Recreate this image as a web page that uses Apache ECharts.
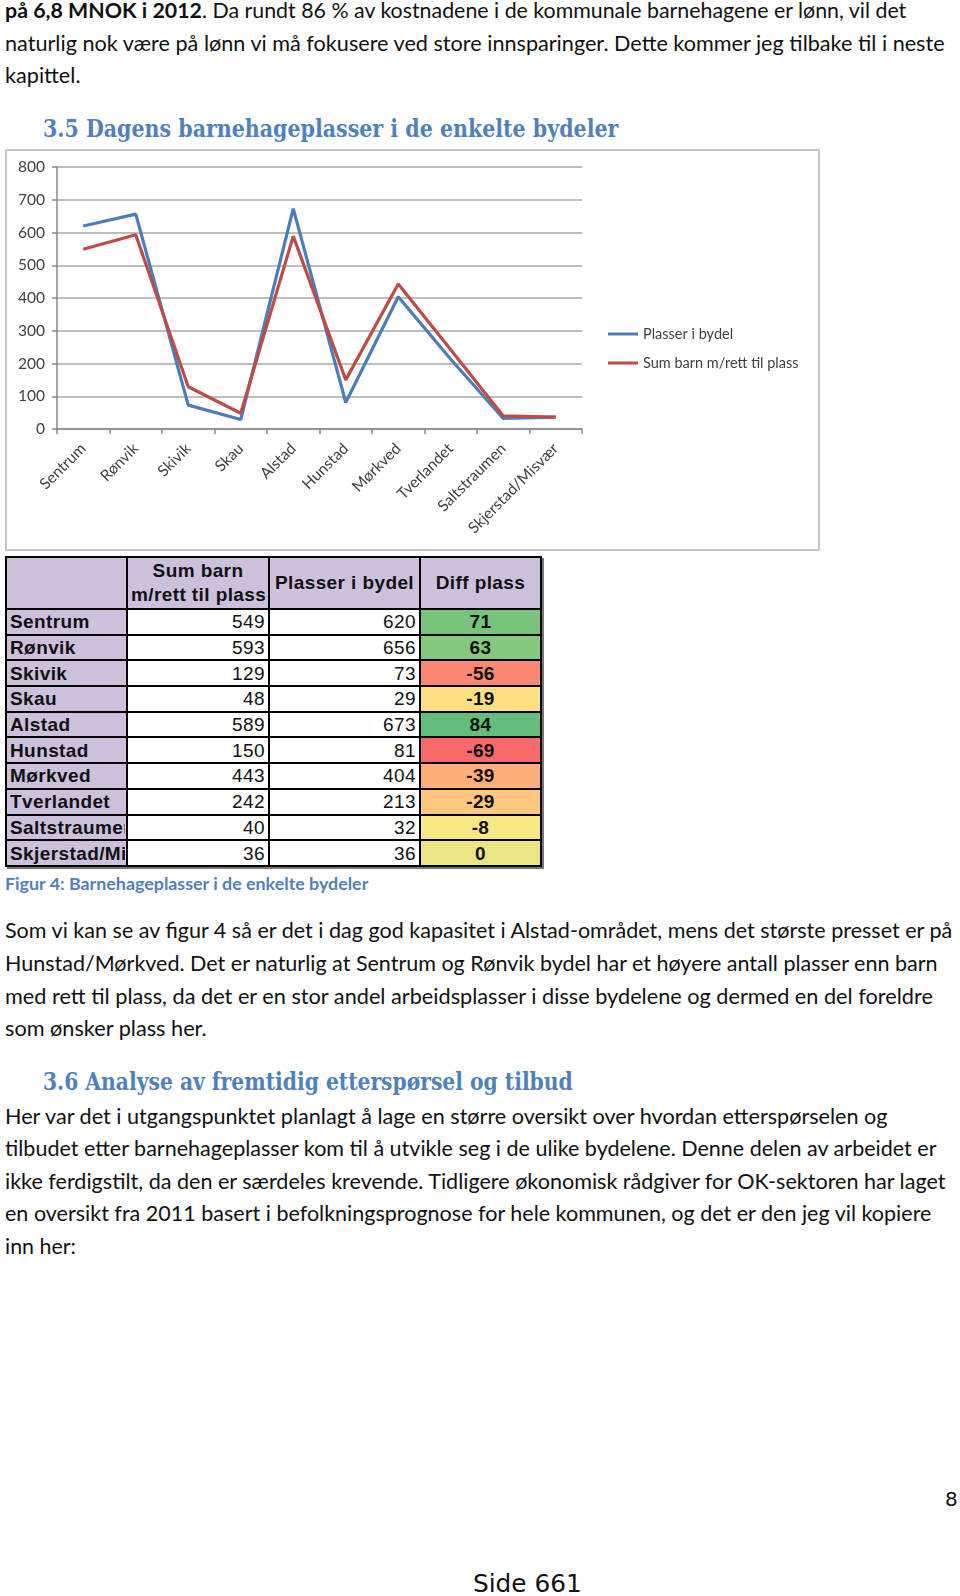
<!DOCTYPE html>
<html>
<head>
<meta charset="utf-8">
<script src="https://cdn.jsdelivr.net/npm/echarts@6/dist/echarts.min.js"></script>
<style>
  html,body{margin:0;padding:0;background:#fff;}
  body{width:960px;height:1596px;position:relative;overflow:hidden;color:#111;}
  .ln{position:absolute;white-space:nowrap;font-family:Lato,"Open Sans",sans-serif;font-size:20.5px;line-height:30px;height:30px;transform-origin:0 50%;}
  .h2{position:absolute;white-space:nowrap;font-family:"DejaVu Serif",serif;font-weight:bold;font-size:24px;line-height:34px;height:34px;color:#4F81BD;transform-origin:0 50%;}
  .cap{position:absolute;white-space:nowrap;font-family:Lato,sans-serif;font-weight:bold;font-size:17px;line-height:24px;color:#4F81BD;transform-origin:0 50%;}
  #chart{position:absolute;left:5px;top:149px;width:815px;height:402px;}
  #chartBorder{position:absolute;left:5px;top:149px;width:815px;height:402px;box-sizing:border-box;border:2px solid #c6c6c6;pointer-events:none;}
  #tbl{position:absolute;left:5px;top:556px;border-collapse:collapse;font-family:"Liberation Sans",Arial,sans-serif;font-size:19px;letter-spacing:0.4px;table-layout:fixed;box-shadow:2px 2px 0 #777;}
  #tbl td{border:2px solid #000;padding:0 3px;height:25.7px;line-height:23px;overflow:hidden;white-space:nowrap;box-sizing:border-box;}
  #tbl tr.hd td{height:52px;background:#CCC0DA;font-weight:bold;text-align:center;line-height:24px;}
  #tbl td.lab{background:#CCC0DA;font-weight:bold;text-align:left;}
  #tbl td.num{text-align:right;background:#fff;}
  #tbl td.dif{text-align:center;font-weight:bold;}
</style>
</head>
<body>
<div class="ln" data-w="901" style="left:5px;top:-5px;"><b>på 6,8 MNOK i 2012</b>. Da rundt 86 % av kostnadene i de kommunale barnehagene er lønn, vil det</div>
<div class="ln" data-w="940" style="left:5px;top:28px;">naturlig nok være på lønn vi må fokusere ved store innsparinger. Dette kommer jeg tilbake til i neste</div>
<div class="ln" data-w="75" style="left:5px;top:60px;">kapittel.</div>

<div class="h2" data-w="575" style="left:43px;top:112px;">3.5 Dagens barnehageplasser i de enkelte bydeler</div>

<div id="chart"></div>
<div id="chartBorder"></div>

<table id="tbl"></table>

<div class="cap" data-w="363" style="left:5px;top:872px;">Figur 4: Barnehageplasser i de enkelte bydeler</div>

<div class="ln" data-w="947" style="left:5px;top:915px;">Som vi kan se av figur 4 så er det i dag god kapasitet i Alstad-området, mens det største presset er på</div>
<div class="ln" data-w="933" style="left:5px;top:948px;">Hunstad/Mørkved. Det er naturlig at Sentrum og Rønvik bydel har et høyere antall plasser enn barn</div>
<div class="ln" data-w="928" style="left:5px;top:981px;">med rett til plass, da det er en stor andel arbeidsplasser i disse bydelene og dermed en del foreldre</div>
<div class="ln" data-w="202" style="left:5px;top:1013px;">som ønsker plass her.</div>

<div class="h2" data-w="530" style="left:43px;top:1065px;">3.6 Analyse av fremtidig etterspørsel og tilbud</div>

<div class="ln" data-w="882" style="left:5px;top:1101px;">Her var det i utgangspunktet planlagt å lage en større oversikt over hvordan etterspørselen og</div>
<div class="ln" data-w="931" style="left:5px;top:1133px;">tilbudet etter barnehageplasser kom til å utvikle seg i de ulike bydelene. Denne delen av arbeidet er</div>
<div class="ln" data-w="940" style="left:5px;top:1166px;">ikke ferdigstilt, da den er særdeles krevende. Tidligere økonomisk rådgiver for OK-sektoren har laget</div>
<div class="ln" data-w="926" style="left:5px;top:1198px;">en oversikt fra 2011 basert i befolkningsprognose for hele kommunen, og det er den jeg vil kopiere</div>
<div class="ln" data-w="71" style="left:5px;top:1231px;">inn her:</div>

<div style="position:absolute;left:945px;top:1486px;font-family:'DejaVu Sans',sans-serif;font-size:20px;line-height:26px;color:#111;">8</div>
<div class="ln" data-w="109" style="left:473px;top:1568px;font-family:'DejaVu Sans',sans-serif;font-size:25px;line-height:32px;height:32px;">Side 661</div>

<script>
// ---- data ----
const categories = ['Sentrum','Rønvik','Skivik','Skau','Alstad','Hunstad','Mørkved','Tverlandet','Saltstraumen','Skjerstad/Misvær'];
const sumBarn    = [549, 593, 129, 48, 589, 150, 443, 242, 40, 36];
const plasser    = [620, 656, 73, 29, 673, 81, 404, 213, 32, 36];
const diffPlass  = [71, 63, -56, -19, 84, -69, -39, -29, -8, 0];
const yTicks     = {min: 0, max: 800, interval: 100};
const seriesNames = ['Plasser i bydel', 'Sum barn m/rett til plass'];
const tableHeaders = ['', 'Sum barn<br>m/rett til plass', 'Plasser i bydel', 'Diff plass'];

// ---- chart ----
const chart = echarts.init(document.getElementById('chart'), null, {renderer: 'canvas'});
const labelFont = {fontFamily: 'Lato, sans-serif', color: '#404040'};
chart.setOption({
  animation: false,
  grid: {left: 52, right: 238, top: 18, bottom: 122, containLabel: false},
  legend: {
    orient: 'vertical', left: 603, top: 177, padding: 0,
    icon: 'rect', itemWidth: 30, itemHeight: 3, itemGap: 13,
    textStyle: Object.assign({fontSize: 14.5, lineHeight: 16}, labelFont),
    data: seriesNames
  },
  xAxis: {
    type: 'category', data: categories, boundaryGap: true,
    axisLine: {lineStyle: {color: '#868686', width: 1.5}},
    axisTick: {show: true, length: 5, lineStyle: {color: '#868686', width: 1.5}},
    axisLabel: Object.assign({rotate: 45, interval: 0, fontSize: 15.5, margin: 17}, labelFont)
  },
  yAxis: {
    type: 'value', min: yTicks.min, max: yTicks.max, interval: yTicks.interval,
    axisLine: {show: true, lineStyle: {color: '#868686', width: 1.5}},
    axisTick: {show: true, length: 5, lineStyle: {color: '#868686', width: 1.5}},
    splitLine: {lineStyle: {color: '#a8a8a8', width: 1.5}},
    axisLabel: Object.assign({fontSize: 15.5, margin: 12}, labelFont)
  },
  series: [
    {name: seriesNames[0], type: 'line', data: plasser, symbol: 'none',
     lineStyle: {color: '#4A7EBB', width: 3.2}, itemStyle: {color: '#4A7EBB'}},
    {name: seriesNames[1], type: 'line', data: sumBarn, symbol: 'none',
     lineStyle: {color: '#BE4B48', width: 3.2}, itemStyle: {color: '#BE4B48'}}
  ]
});

// ---- table ----
function scaleColor(v, vals) {
  const s = vals.slice().sort((a, b) => a - b);
  const mn = s[0], mx = s[s.length - 1];
  const p = (s.length - 1) * 0.5, lo = Math.floor(p), mid = s[lo] + (s[Math.ceil(p)] - s[lo]) * (p - lo);
  const red = [248, 105, 107], yel = [255, 235, 132], grn = [99, 190, 123];
  let a, b, t;
  if (v <= mid) { a = red; b = yel; t = (v - mn) / (mid - mn); }
  else { a = yel; b = grn; t = (v - mid) / (mx - mid); }
  const c = a.map((x, i) => Math.round(x + (b[i] - x) * t));
  return 'rgb(' + c.join(',') + ')';
}
const colW = [121, 142, 151, 121];
let html = '<colgroup>' + colW.map(w => '<col style="width:' + w + 'px">').join('') + '</colgroup>';
html += '<tr class="hd">' + tableHeaders.map(h => '<td>' + h + '</td>').join('') + '</tr>';
categories.forEach((c, i) => {
  html += '<tr><td class="lab"><div style="width:' + (colW[0] - 6) + 'px;overflow:hidden">' + c + '</div></td>' +
          '<td class="num">' + sumBarn[i] + '</td>' +
          '<td class="num">' + plasser[i] + '</td>' +
          '<td class="dif" style="background:' + scaleColor(diffPlass[i], diffPlass) + '">' + diffPlass[i] + '</td></tr>';
});
const tbl = document.getElementById('tbl');
tbl.innerHTML = html;
tbl.style.width = colW.reduce((a, b) => a + b, 0) + 'px';

// ---- fit text lines to reference widths ----
function fit() {
  document.querySelectorAll('[data-w]').forEach(el => {
    el.style.transform = 'none';
    const w = el.scrollWidth;
    const target = +el.getAttribute('data-w');
    if (w > 0) el.style.transform = 'scaleX(' + (target / w) + ')';
  });
}
fit();
if (document.fonts && document.fonts.ready) document.fonts.ready.then(fit);
</script>
</body>
</html>
